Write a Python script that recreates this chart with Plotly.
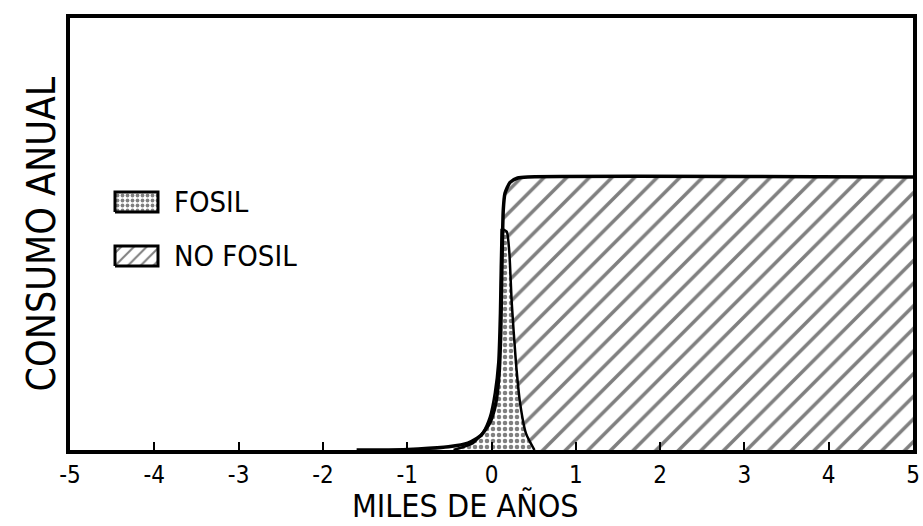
import plotly.graph_objects as go

# Total annual consumption (outer curve), plateau normalised to 1
total_x = [-1.6, -1.22, -0.87, -0.51, -0.28, -0.12, -0.02, 0.05, 0.09, 0.11, 0.12, 0.14, 0.16, 0.22, 0.31, 0.43, 5.0]
total_y = [0.0, 0.0, 0.004, 0.012, 0.025, 0.055, 0.10, 0.17, 0.28, 0.43, 0.61, 0.88, 0.94, 0.98, 0.996, 1.0, 1.0]

# Fossil peak: left edge (rising) then right edge (falling)
fosil_left_x = [-0.45, -0.22, -0.10, -0.02, 0.04, 0.08, 0.10, 0.11, 0.12]
fosil_left_y = [0.0, 0.025, 0.065, 0.12, 0.21, 0.32, 0.50, 0.67, 0.81]
fosil_right_x = [0.18, 0.21, 0.24, 0.29, 0.34, 0.41, 0.51]
fosil_right_y = [0.80, 0.73, 0.54, 0.32, 0.17, 0.06, 0.0]

# Non-fossil region upper boundary (right of the fossil peak)
nofosil_upper_x = [0.125, 0.14, 0.16, 0.22, 0.31, 0.43, 5.0]
nofosil_upper_y = [0.80, 0.88, 0.94, 0.98, 0.996, 1.0, 1.0]

tick_vals = [-5, -4, -3, -2, -1, 0, 1, 2, 3, 4, 5]
tick_text = ["-5", "-4", "-3", "-2", "-1", "0", "1", "2", "3", "4", "5"]

legend_names = ["FOSIL", "NO FOSIL"]
x_title = "MILES DE AÑOS"
y_title = "CONSUMO ANUAL"

FONT = "DejaVu Sans Condensed, DejaVu Sans, sans-serif"
HATCH = dict(shape="/", fgcolor="black", bgcolor="white", size=16, solidity=0.22)
DOTS = dict(shape=".", fgcolor="black", bgcolor="white", size=6, solidity=0.45)

fig = go.Figure()

# NO FOSIL polygon
nf_x = list(reversed(fosil_right_x)) + nofosil_upper_x + [5.0, fosil_right_x[-1]]
nf_y = list(reversed(fosil_right_y)) + nofosil_upper_y + [0.0, 0.0]
fig.add_trace(go.Scatter(
    x=nf_x, y=nf_y, fill="toself", mode="lines", line=dict(width=0, color="black"),
    fillcolor="white", fillpattern=HATCH, name="NO FOSIL", showlegend=False, hoverinfo="skip"))

# FOSIL polygon
fig.add_trace(go.Scatter(
    x=fosil_left_x + fosil_right_x, y=fosil_left_y + fosil_right_y,
    fill="toself", mode="lines", line=dict(width=0, color="black"),
    fillcolor="white", fillpattern=DOTS, name="FOSIL", showlegend=False, hoverinfo="skip"))

# Outlines
fig.add_trace(go.Scatter(x=total_x, y=total_y, mode="lines",
                         line=dict(color="black", width=3.5, shape="spline", smoothing=0.6),
                         showlegend=False, hoverinfo="skip"))
fig.add_trace(go.Scatter(x=fosil_left_x, y=fosil_left_y, mode="lines",
                         line=dict(color="black", width=2.5, shape="spline", smoothing=0.6),
                         showlegend=False, hoverinfo="skip"))
fig.add_trace(go.Scatter(x=[fosil_left_x[-1]] + fosil_right_x, y=[fosil_left_y[-1]] + fosil_right_y,
                         mode="lines",
                         line=dict(color="black", width=2.5, shape="spline", smoothing=0.6),
                         showlegend=False, hoverinfo="skip"))

# Legend (drawn on an overlay axis measured in pixels of the plot area)
sw_x0, sw_x1 = 45, 88
sw_rows = [248, 194]  # vertical centres, pixels above the bottom axis
sw_h = 10
for name, yc, pat in zip(legend_names, sw_rows, [DOTS, HATCH]):
    fig.add_trace(go.Scatter(
        x=[sw_x0, sw_x1, sw_x1, sw_x0, sw_x0], y=[yc - sw_h, yc - sw_h, yc + sw_h, yc + sw_h, yc - sw_h],
        xaxis="x2", yaxis="y2", fill="toself", mode="lines",
        line=dict(color="black", width=3), fillcolor="white",
        fillpattern=dict(pat, size=9 if pat is HATCH else 5),
        showlegend=False, hoverinfo="skip"))
    fig.add_annotation(x=sw_x1 + 14, y=yc, xref="x2", yref="y2", text=name,
                       showarrow=False, xanchor="left", yanchor="middle",
                       font=dict(size=29, family=FONT, color="black"))

# X-axis title (placed as annotation below the tick labels)
fig.add_annotation(x=395, y=0, xref="x2", yref="paper", yshift=-76, text=x_title,
                   showarrow=False, xanchor="center", yanchor="bottom", borderpad=0,
                   font=dict(size=32, family=FONT, color="black"))

fig.update_layout(
    width=923, height=526,
    margin=dict(l=70, r=10, t=18, b=76),
    paper_bgcolor="white", plot_bgcolor="white",
    font=dict(family=FONT, color="black"),
    showlegend=False,
    xaxis=dict(range=[-5, 5], tickvals=tick_vals, ticktext=tick_text, automargin=False,
               showgrid=False, zeroline=False, showline=True, mirror=True,
               linecolor="black", linewidth=3.5, ticks="inside", ticklen=8,
               tickwidth=2, tickcolor="black",
               tickfont=dict(size=24, family=FONT)),
    yaxis=dict(range=[0, 1.582], showticklabels=False, ticks="", automargin=False,
               showgrid=False, zeroline=False, showline=True, mirror=True,
               linecolor="black", linewidth=3.5,
               title=dict(text=y_title, font=dict(size=39, family=FONT), standoff=0)),
    xaxis2=dict(range=[0, 843], overlaying="x", visible=False, fixedrange=True),
    yaxis2=dict(range=[0, 432], overlaying="y", visible=False, fixedrange=True),
)

fig.write_html("out.html", config={"displayModeBar": False},
               post_script="document.body.style.margin='0';")
